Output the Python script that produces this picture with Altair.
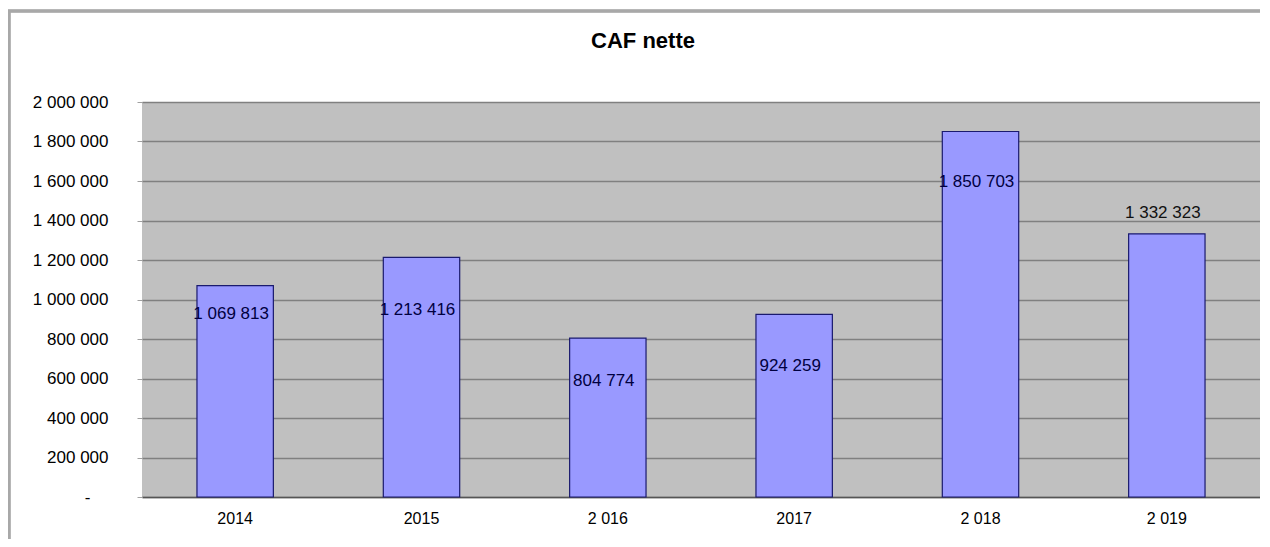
import altair as alt
import pandas as pd

# Data
years = ["2014", "2015", "2 016", "2017", "2 018", "2 019"]
caf_nette = [1069813, 1213416, 804774, 924259, 1850703, 1332323]
# height (in data units) at which each value label sits in the picture
label_at = [927000, 947000, 587000, 663000, 1595000, 1438000]
y_ticks = [0, 200000, 400000, 600000, 800000, 1000000, 1200000,
           1400000, 1600000, 1800000, 2000000]

df = pd.DataFrame({
    "year": years,
    "value": caf_nette,
    "label_at": label_at,
    "label": [f"{v:,}".replace(",", " ") for v in caf_nette],
})

W, H = 1118, 395
FONT = "Liberation Sans"

x_scale = alt.Scale(paddingInner=0.59, paddingOuter=0.295)
x_axis = alt.Axis(labelAngle=0, labelFont=FONT, labelFontSize=16,
                  labelColor="#000000", ticks=False, labelPadding=13,
                  domainColor="#555555", domainWidth=1.5)
y_scale = alt.Scale(domain=[0, 2000000], nice=False)
y_axis = alt.Axis(
    values=y_ticks, labelFont=FONT, labelFontSize=17,
    labelColor="#000000", tickColor="#a0a0a0", tickSize=5,
    labelPadding={"condition": {"test": "datum.value == 0", "value": 47},
                  "value": 29},
    domain=False, labelOverlap=False,
    gridColor="#808080", gridWidth=1.6,
    labelExpr="datum.value == 0 ? '-' : replace(format(datum.value, ','), regexp(',', 'g'), ' ')",
)

bars = alt.Chart(df).mark_bar(
    color="#9999ff", stroke="#1a1a6e", strokeWidth=1.2
).encode(
    x=alt.X("year:N", sort=years, title=None, scale=x_scale, axis=x_axis),
    y=alt.Y("value:Q", title=None, scale=y_scale, axis=y_axis),
)

labels = alt.Chart(df).mark_text(
    font=FONT, fontSize=17, baseline="middle", align="center", dx=-4
).encode(
    x=alt.X("year:N", sort=years, title=None, scale=x_scale, axis=x_axis),
    y=alt.Y("label_at:Q", title=None, scale=y_scale, axis=y_axis),
    text="label:N",
    color=alt.condition("datum.label_at > datum.value",
                        alt.value("#111111"), alt.value("#000040")),
)

frame = alt.Chart(df).mark_rect(
    fill=None, stroke="#a8a8a8", strokeWidth=2.5
).encode(
    x=alt.value(-133), x2=alt.value(W + 40),
    y=alt.value(-91), y2=alt.value(H + 200),
)

chart = alt.layer(frame, bars, labels).properties(
    width=W, height=H,
    title=alt.Title("CAF nette", font=FONT, fontSize=22, fontWeight="bold",
                    color="#000000", anchor="middle", dx=-58, offset=-43),
    autosize=alt.AutoSizeParams(type="none"),
    padding={"left": 134, "top": 94, "right": 0, "bottom": 42},
).configure(
    background="#ffffff"
).configure_view(
    fill="#c0c0c0", stroke=None
)

chart.save("out.html", embed_options={"renderer": "svg", "actions": False})
